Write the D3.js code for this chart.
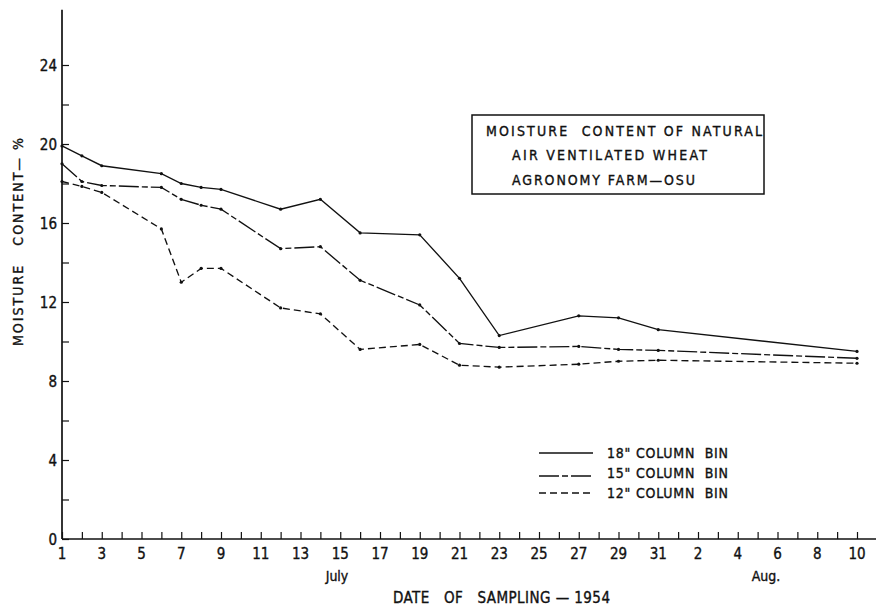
<!DOCTYPE html>
<html>
<head>
<meta charset="utf-8">
<script src="https://cdn.jsdelivr.net/npm/d3@7"></script>
<style>
  html, body { margin: 0; padding: 0; background: #fff; }
  svg { display: block; }
  text {
    font-family: "DejaVu Sans Condensed", "DejaVu Sans", sans-serif;
    font-stretch: condensed;
    white-space: pre;
    fill: #111; stroke: #111; stroke-width: 0.35px;
  }
</style>
</head>
<body>
<svg id="chart" width="876" height="606"></svg>
<script>
// Sampling dates, summer 1954
const sampleDates = [
  "1954-07-01", "1954-07-02", "1954-07-03", "1954-07-06", "1954-07-07",
  "1954-07-08", "1954-07-09", "1954-07-12", "1954-07-14", "1954-07-16",
  "1954-07-19", "1954-07-21", "1954-07-23", "1954-07-27", "1954-07-29",
  "1954-07-31", "1954-08-10"
];

// Moisture content (%) per column bin
const bin18 = [19.9, 19.4, 18.9, 18.5, 18.0, 17.8, 17.7, 16.7, 17.2, 15.5, 15.4, 13.2, 10.3, 11.3, 11.2, 10.6, 9.5];
const bin15 = [19.0, 18.1, 17.9, 17.8, 17.2, 16.9, 16.7, 14.7, 14.8, 13.1, 11.85, 9.9, 9.7, 9.75, 9.6, 9.55, 9.15];
const bin12 = [18.1, 17.85, 17.55, 15.7, 13.0, 13.7, 13.7, 11.7, 11.4, 9.6, 9.85, 8.8, 8.7, 8.85, 9.0, 9.05, 8.9];

const seriesNames = ["18\" COLUMN  BIN", "15\" COLUMN  BIN", "12\" COLUMN  BIN"];
const yTickValues = [0, 4, 8, 12, 16, 20, 24];
const yMinorValues = [2, 6, 10, 14, 18, 22];
const titleLines = ["MOISTURE  CONTENT OF NATURAL", "AIR VENTILATED WHEAT", "AGRONOMY FARM\u2014OSU"];

const parse = d3.utcParse("%Y-%m-%d");
const svg = d3.select("#chart");

const x = d3.scaleUtc()
  .domain([parse("1954-07-01"), parse("1954-08-10")])
  .range([62, 857]);
const y = d3.scaleLinear().domain([0, 24]).range([539, 65]);
const yTop = 26.8;

// every day gets a tick; odd July days and even August days are labelled
const allDays = d3.utcDay.range(parse("1954-07-01"), parse("1954-08-11"));
const labelDays = allDays.filter(d => (d.getUTCMonth() === 6 ? d.getUTCDate() % 2 === 1 : d.getUTCDate() % 2 === 0));

// axes frame
const axisG = svg.append("g").attr("stroke", "#111").attr("stroke-width", 1.7).attr("fill", "none");
axisG.append("line").attr("x1", x.range()[0]).attr("x2", x.range()[0])
  .attr("y1", y(0)).attr("y2", y(yTop));
axisG.append("line").attr("x1", x.range()[0]).attr("x2", 876)
  .attr("y1", y(0)).attr("y2", y(0));

// x axis: inward ticks
const xAxis = d3.axisTop(x).tickValues(allDays).tickSize(7).tickFormat("");
const gx = svg.append("g").attr("transform", `translate(0,${y(0)})`).call(xAxis);
gx.select(".domain").remove();
gx.selectAll(".tick line").attr("stroke", "#111").attr("stroke-width", 1.2);

svg.append("g").selectAll("text").data(labelDays).join("text")
  .attr("x", d => x(d)).attr("y", 559)
  .attr("text-anchor", "middle")
  .attr("font-size", 15)
  .text(d => d3.utcFormat("%-d")(d));

// y axis: inward ticks
const yAxis = d3.axisRight(y).tickValues(yTickValues.concat(yMinorValues)).tickSize(7).tickFormat("");
const gy = svg.append("g").attr("transform", `translate(${x.range()[0]},0)`).call(yAxis);
gy.select(".domain").remove();
gy.selectAll(".tick line").attr("stroke", "#111").attr("stroke-width", 1.2);

svg.append("g").selectAll("text").data(yTickValues).join("text")
  .attr("x", 57).attr("y", d => y(d) + 5.5)
  .attr("text-anchor", "end")
  .attr("font-size", 15)
  .text(d => d);

// month captions and axis titles
svg.append("text").attr("x", 337).attr("y", 581).attr("text-anchor", "middle").attr("font-size", 14).text("July");
svg.append("text").attr("x", 766).attr("y", 581).attr("text-anchor", "middle").attr("font-size", 14).text("Aug.");
svg.append("text").attr("x", 393).attr("y", 603).attr("font-size", 15)
  .attr("textLength", 217).attr("lengthAdjust", "spacing")
  .text("DATE   OF   SAMPLING \u2014 1954");
svg.append("text")
  .attr("transform", "translate(23,346) rotate(-90)")
  .attr("font-size", 14)
  .attr("textLength", 208).attr("lengthAdjust", "spacing")
  .text("MOISTURE   CONTENT\u2014 %");

// series
const series = [
  { name: seriesNames[0], values: bin18, dash: null },
  { name: seriesNames[1], values: bin15, dash: "20,3,6,3" },
  { name: seriesNames[2], values: bin12, dash: "7,4" }
];
const line = d3.line().x(d => x(d.date)).y(d => y(d.v));

series.forEach(s => {
  const pts = sampleDates.map((d, i) => ({ date: parse(d), v: s.values[i] }));
  svg.append("path").datum(pts)
    .attr("fill", "none").attr("stroke", "#111").attr("stroke-width", 1.35)
    .attr("stroke-dasharray", s.dash)
    .attr("d", line);
  svg.append("g").selectAll("circle").data(pts).join("circle")
    .attr("cx", d => x(d.date)).attr("cy", d => y(d.v)).attr("r", 1.6)
    .attr("fill", "#111");
});

// title box
svg.append("rect").attr("x", 472).attr("y", 115).attr("width", 292).attr("height", 79)
  .attr("fill", "#fff").attr("stroke", "#111").attr("stroke-width", 1.5);
const titleX = [486, 512, 512];
const titleY = [136, 160, 185];
const titleW = [276, 195, 183];
titleLines.forEach((t, i) => {
  svg.append("text").attr("x", titleX[i]).attr("y", titleY[i])
    .attr("font-size", 14)
    .attr("textLength", titleW[i]).attr("lengthAdjust", "spacing")
    .text(t);
});

// legend
const legendY = [453, 476, 493];
series.forEach((s, i) => {
  svg.append("line").attr("x1", 539).attr("x2", 593)
    .attr("y1", legendY[i]).attr("y2", legendY[i])
    .attr("stroke", "#111").attr("stroke-width", 1.3)
    .attr("stroke-dasharray", s.dash);
  svg.append("text").attr("x", 607).attr("y", [458, 478, 498][i])
    .attr("font-size", 14)
    .attr("textLength", 121).attr("lengthAdjust", "spacing")
    .text(s.name);
});
</script>
</body>
</html>
